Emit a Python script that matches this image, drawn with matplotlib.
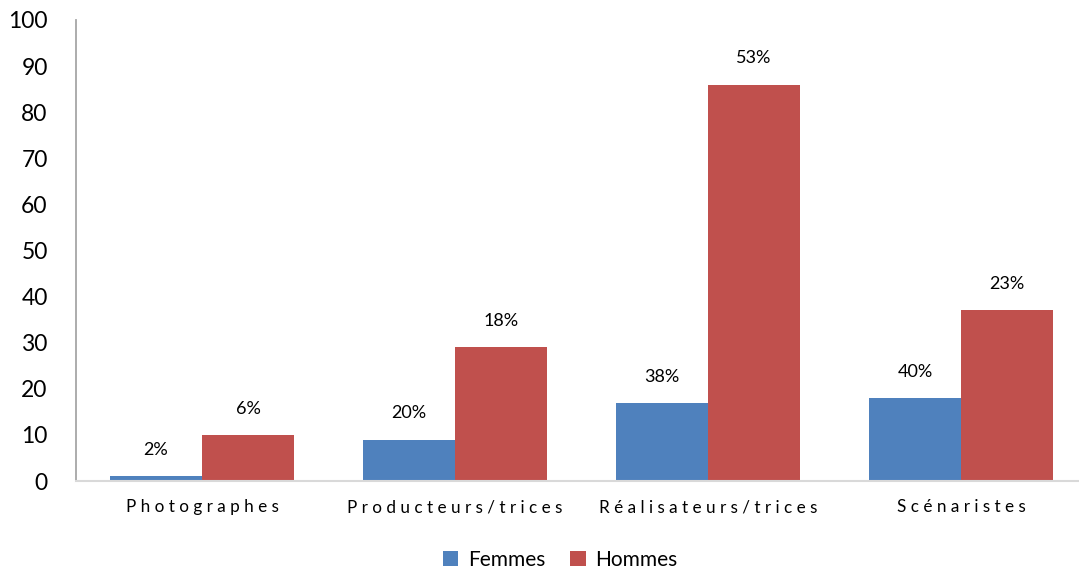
import matplotlib
matplotlib.use("Agg")
import matplotlib.pyplot as plt
import numpy as np

categories = ["Photographes", "Producteurs/trices", "Réalisateurs/trices", "Scénaristes"]
femmes = [1, 9, 17, 18]
hommes = [10, 29, 86, 37]
femmes_labels = ["2%", "20%", "38%", "40%"]
hommes_labels = ["6%", "18%", "53%", "23%"]
yticks = [0, 10, 20, 30, 40, 50, 60, 70, 80, 90, 100]

plt.rcParams['font.family'] = ['Lato', 'DejaVu Sans']

fig = plt.figure(figsize=(10.79, 5.71), dpi=100)
ax = fig.add_axes([75.5 / 1079, 90 / 571, 1012 / 1079, 461 / 571])

x = np.arange(len(categories))
w = 0.364
c_f = "#4F81BD"
c_h = "#C0504D"
bf = ax.bar(x - w / 2, femmes, w, color=c_f, label="Femmes")
bh = ax.bar(x + w / 2, hommes, w, color=c_h, label="Hommes")

for rects, labs in ((bf, femmes_labels), (bh, hommes_labels)):
    for r, lab in zip(rects, labs):
        ax.annotate(lab, (r.get_x() + r.get_width() / 2, r.get_height()),
                    xytext=(0, 13), textcoords="offset points",
                    ha="center", va="bottom", fontsize=13, color="#000000")

ax.set_xlim(-0.5, 3.5)
ax.set_ylim(0, 100)
ax.set_yticks(yticks)
ax.set_yticklabels([str(v) for v in yticks], fontsize=16.5)
ax.set_xticks(x)
ax.set_xticklabels([" ".join(c) for c in categories], fontsize=12.3)
ax.tick_params(axis="y", length=0, pad=20)
ax.tick_params(axis="x", length=0, pad=13)

for s in ("top", "right"):
    ax.spines[s].set_visible(False)
ax.spines["left"].set_color("#A6A6A6")
ax.spines["left"].set_linewidth(1.3)
ax.spines["bottom"].set_color("#D9D9D9")
ax.spines["bottom"].set_linewidth(1.5)

fig.legend(handles=[bf, bh], labels=["Femmes", "Hommes"], loc="center",
           bbox_to_anchor=(560 / 1079, 1 - 560 / 571), ncol=2, frameon=False,
           fontsize=15, handlelength=0.75, handleheight=0.75, handletextpad=0.45,
           columnspacing=1.2)

fig.savefig("out.png", dpi=100)
